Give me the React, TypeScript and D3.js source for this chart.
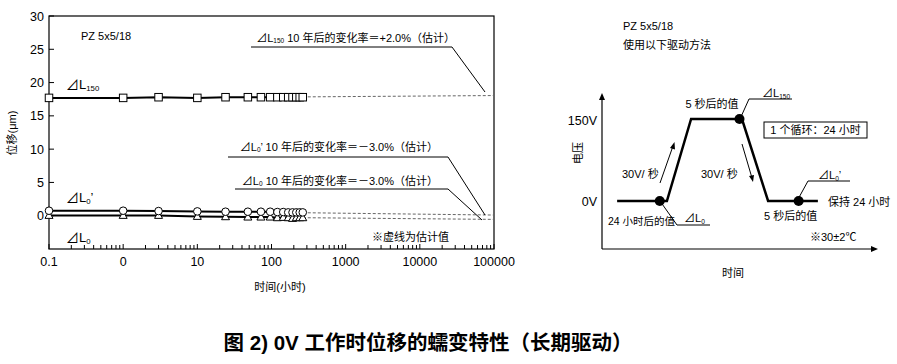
import React from "react";
import * as d3 from "d3";

// measurement times (hours) and displacement (µm)
const hours = [0.1, 1, 3, 10, 24, 48, 72, 96, 120, 144, 168, 192, 216, 240, 264];
const dL150 = [17.7, 17.7, 17.8, 17.7, 17.8, 17.8, 17.8, 17.8, 17.8, 17.8, 17.8, 17.8, 17.8, 17.8, 17.8];
const dL0p = [0.75, 0.75, 0.7, 0.65, 0.6, 0.6, 0.6, 0.6, 0.55, 0.55, 0.5, 0.5, 0.5, 0.5, 0.5];
const dL0 = [0.05, 0.05, 0.05, -0.1, -0.15, -0.2, -0.2, -0.2, -0.3, -0.25, -0.3, -0.4, -0.3, -0.3, -0.3];

// estimated trend (dashed) from last point to 10 years
const fitHours = [264, 100000];
const fitL150 = [17.85, 18.05];
const fitL0p = [0.45, 0.1];
const fitL0 = [-0.3, -0.55];

const xTicks = [0.1, 1, 10, 100, 1000, 10000, 100000];
const xTickLabels = ["0.1", "0", "10", "100", "1000", "10000", "100000"];
const yTicks = [0, 5, 10, 15, 20, 25, 30];

// drive waveform (schematic time units, volts)
const driveT = [0.55, 2.36, 3.24, 5.09, 6.04, 7.85];
const driveV = [0, 0, 150, 150, 0, 0];
const dotT = [2.1, 5.0, 7.15];
const dotV = [0, 150, 0];

const FONT = "'Liberation Sans', Arial, 'Noto Sans CJK SC', sans-serif";

const Delta = ({ x, y, sub, prime, size = 11 }: any) => (
  <text x={x} y={y} fontSize={size}>
    ⊿L<tspan fontSize={size * 0.6} dy={2}>{sub}</tspan>
    {prime ? <tspan dy={-2}>’</tspan> : null}
  </text>
);

export default function App() {
  const x = d3.scaleLog().domain([0.1, 100000]).range([49, 494]);
  const y = d3.scaleLinear().domain([-5, 30]).range([249, 16]);

  const line = d3
    .line<number>()
    .x((_, i) => x(hours[i]))
    .y((d) => y(d));
  const fit = d3
    .line<number>()
    .x((_, i) => x(fitHours[i]))
    .y((d) => y(d));

  const minor: number[] = [];
  for (let e = -1; e < 5; e++) for (let k = 2; k <= 9; k++) minor.push(k * Math.pow(10, e));

  // right diagram scales
  const tx = d3.scaleLinear().domain([0, 10]).range([602, 877]);
  const vy = d3.scaleLinear().domain([0, 150]).range([201, 119]);
  const drive = d3
    .line<number>()
    .x((_, i) => tx(driveT[i]))
    .y((d) => vy(d));

  const sq = 7.5;

  return (
    <svg
      width={897}
      height={364}
      style={{ position: "absolute", left: 0, top: 0, background: "#fff" }}
      fontFamily={FONT}
      fill="#000"
    >
      {/* ---- left chart ---- */}
      <rect x={49} y={16} width={445} height={233} fill="none" stroke="#000" strokeWidth={1.2} />
      {yTicks.map((t) => (
        <g key={t}>
          <line x1={49} x2={54} y1={y(t)} y2={y(t)} stroke="#000" />
          <text x={44} y={y(t) + 4.5} fontSize={12.5} textAnchor="end">
            {t}
          </text>
        </g>
      ))}
      {minor.map((t) => (
        <line key={t} x1={x(t)} x2={x(t)} y1={249} y2={245} stroke="#000" />
      ))}
      {xTicks.map((t, i) => (
        <g key={t}>
          <line x1={x(t)} x2={x(t)} y1={249} y2={244} stroke="#000" />
          <text x={x(t)} y={266} fontSize={12.5} textAnchor="middle">
            {xTickLabels[i]}
          </text>
        </g>
      ))}
      <text x={280} y={291} fontSize={11} textAnchor="middle">
        时间(小时)
      </text>
      <text transform="translate(16,133) rotate(-90)" fontSize={11} textAnchor="middle">
        位移(μm)
      </text>

      {/* dashed estimates */}
      {[fitL150, fitL0p, fitL0].map((f, i) => (
        <path key={i} d={fit(f) || ""} fill="none" stroke="#666" strokeWidth={1} strokeDasharray="3,2" />
      ))}

      {/* measured lines */}
      {[dL150, dL0p, dL0].map((s, i) => (
        <path key={i} d={line(s) || ""} fill="none" stroke="#000" strokeWidth={2} />
      ))}
      {dL0.map((v, i) => (
        <path
          key={"t" + i}
          d={`M${x(hours[i])},${y(v) - 4}L${x(hours[i]) + 4},${y(v) + 3}L${x(hours[i]) - 4},${y(v) + 3}Z`}
          fill="#fff"
          stroke="#000"
          strokeWidth={1}
        />
      ))}
      {dL0p.map((v, i) => (
        <circle key={"c" + i} cx={x(hours[i])} cy={y(v)} r={3.8} fill="#fff" stroke="#000" strokeWidth={1} />
      ))}
      {dL150.map((v, i) => (
        <rect
          key={"s" + i}
          x={x(hours[i]) - sq / 2}
          y={y(v) - sq / 2}
          width={sq}
          height={sq}
          fill="#fff"
          stroke="#000"
          strokeWidth={1}
        />
      ))}

      <text x={81} y={40} fontSize={11}>PZ 5x5/18</text>
      <Delta x={66} y={89} sub="150" size={13} />
      <Delta x={66} y={202} sub="0" prime size={13} />
      <Delta x={66} y={242} sub="0" size={13} />

      <text x={455} y={42} fontSize={11} textAnchor="end">
        ⊿L<tspan fontSize={6.5} dy={1}>150</tspan>
        <tspan dy={-1}> 10 年后的变化率＝+2.0%（估计）</tspan>
      </text>
      <path d="M251,47H452L485,92" fill="none" stroke="#000" strokeWidth={1} />

      <text x={438} y={151} fontSize={11} textAnchor="end">
        ⊿L<tspan fontSize={6.5} dy={1}>0</tspan>
        <tspan dy={-1}>’ 10 年后的变化率＝－3.0%（估计）</tspan>
      </text>
      <path d="M228,157H448L485,215" fill="none" stroke="#000" strokeWidth={1} />

      <text x={438} y={185} fontSize={11} textAnchor="end">
        ⊿L<tspan fontSize={6.5} dy={1}>0</tspan>
        <tspan dy={-1}> 10 年后的变化率＝－3.0%（估计）</tspan>
      </text>
      <path d="M235,189H448L482,220" fill="none" stroke="#000" strokeWidth={1} />

      <text x={372} y={241} fontSize={11}>※虚线为估计值</text>

      {/* ---- right diagram ---- */}
      <text x={623} y={30} fontSize={11}>PZ 5x5/18</text>
      <text x={623} y={49} fontSize={11}>使用以下驱动方法</text>

      <line x1={tx(0)} x2={tx(0)} y1={249} y2={97} stroke="#000" strokeWidth={1.2} />
      <path d={`M${tx(0)},93l-3,7h6z`} />
      <line x1={tx(0)} x2={874} y1={249} y2={249} stroke="#000" strokeWidth={1.2} />
      <path d="M878,249l-7,-3v6z" />
      <text x={597} y={125} fontSize={12.5} textAnchor="end">150V</text>
      <text x={597} y={206} fontSize={12.5} textAnchor="end">0V</text>
      <text transform="translate(582,153) rotate(-90)" fontSize={11} textAnchor="middle">
        电压
      </text>
      <text x={733} y={277} fontSize={11} textAnchor="middle">时间</text>

      <path d={drive(driveV) || ""} fill="none" stroke="#000" strokeWidth={2.5} />
      {dotV.map((v, i) => (
        <circle key={i} cx={tx(dotT[i])} cy={vy(v)} r={5} />
      ))}

      {/* rate arrows */}
      <line x1={660} y1={183} x2={673} y2={146} stroke="#000" strokeWidth={1} />
      <path d="M674.5,142l-4.5,6l5,1.5z" />
      <line x1={742} y1={144} x2={752} y2={178} stroke="#000" strokeWidth={1} />
      <path d="M753,182l-4,-6l5,-1z" />
      <text x={622} y={178} fontSize={11}>30V/ 秒</text>
      <text x={701} y={178} fontSize={11}>30V/ 秒</text>

      <text x={712} y={108} fontSize={11} textAnchor="middle">5 秒后的值</text>
      <Delta x={762} y={97} sub="150" size={11} />
      <path d="M740,119L749,99H792" fill="none" stroke="#000" strokeWidth={1} />

      <rect x={764} y={122} width={103} height={16} fill="#fff" stroke="#000" strokeWidth={1} />
      <text x={815.5} y={134} fontSize={11} textAnchor="middle">1 个循环：24 小时</text>

      <text x={608} y={225} fontSize={10.5}>24 小时后的值</text>
      <Delta x={684} y={222} sub="0" size={11} />
      <path d="M660,201L677,225H710" fill="none" stroke="#000" strokeWidth={1} />

      <text x={764} y={220} fontSize={11}>5 秒后的值</text>
      <text x={828} y={206} fontSize={11}>保持 24 小时</text>
      <Delta x={818} y={179} sub="0" prime size={11} />
      <path d="M797,201L808,181H850" fill="none" stroke="#000" strokeWidth={1} />

      <text x={810} y={241} fontSize={11}>※30±2℃</text>

      {/* title */}
      <text x={428} y={350} fontSize={20.5} fontWeight="bold" textAnchor="middle">
        图 2) 0V 工作时位移的蠕变特性（长期驱动）
      </text>
    </svg>
  );
}
